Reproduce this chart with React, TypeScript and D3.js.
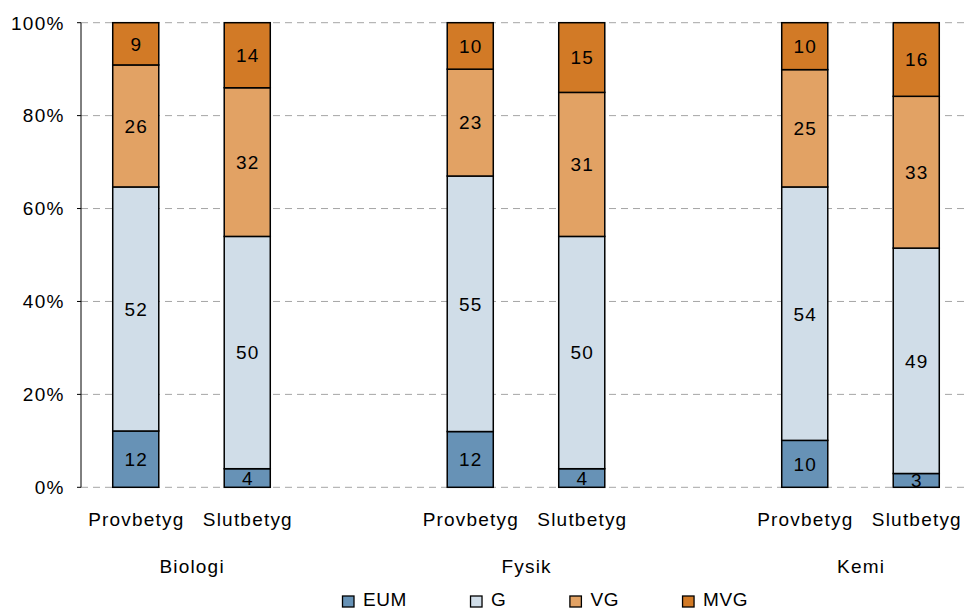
import React from "react";
import * as d3 from "d3";

const subjects = ["Biologi", "Fysik", "Kemi"];
const kinds = ["Provbetyg", "Slutbetyg"];
const series = ["EUM", "G", "VG", "MVG"];
const colors = ["#6792b6", "#d0dde8", "#e2a264", "#d27a26"];
const EUM = [12, 4, 12, 4, 10, 3];
const G = [52, 50, 55, 50, 54, 49];
const VG = [26, 32, 23, 31, 25, 33];
const MVG = [9, 14, 10, 15, 10, 16];
const yTicks = [0, 0.2, 0.4, 0.6, 0.8, 1];

const W = 964, H = 611;
const FONT = "'Liberation Sans', Arial, sans-serif";
const FS = 19;
const LS = 1.2;

function textWidth(s: string, size: number, ls: number) {
  if (typeof document === "undefined") return s.length * size * 0.6;
  const c = document.createElement("canvas").getContext("2d")!;
  c.font = `${size}px 'Liberation Sans', Arial, sans-serif`;
  return c.measureText(s).width + ls * s.length;
}

export default function App() {
  const slots: string[] = [];
  subjects.forEach((s, i) => {
    kinds.forEach((k) => slots.push(`${s}|${k}`));
    if (i < subjects.length - 1) slots.push(`gap${i}`);
  });
  const x = d3.scaleBand<string>().domain(slots).range([80, 972]).paddingInner(0.587).paddingOuter(0.2935);
  const y = d3.scaleLinear().domain([0, 1]).range([487.3, 22.7]);

  const bars: { key: string; vals: number[] }[] = [];
  subjects.forEach((s, si) => kinds.forEach((k, ki) => {
    const i = si * 2 + ki;
    bars.push({ key: `${s}|${k}`, vals: [EUM[i], G[i], VG[i], MVG[i]] });
  }));

  const bw = x.bandwidth();
  const fmt = d3.format(".0%");

  const legendLS = 0.6;
  const legendX: number[] = [];
  let lx = 342;
  series.forEach((s) => {
    legendX.push(lx);
    lx += 21 + textWidth(s, FS, legendLS) + 63;
  });

  return (
    <svg width={W} height={H} style={{ position: "absolute", left: 0, top: 0, fontFamily: FONT }}>
      {yTicks.map((t) => (
        <g key={t}>
          <line x1={81} x2={964} y1={y(t)} y2={y(t)} stroke="#a6a6a6" strokeWidth={1} strokeDasharray="7,5" />
          <line x1={77} x2={81} y1={y(t)} y2={y(t)} stroke="#000" />
          <text x={64.5} y={y(t)} dy="0.36em" textAnchor="end" fontSize={FS} letterSpacing={LS} fill="#000">{fmt(t)}</text>
        </g>
      ))}
      <line x1={81} x2={81} y1={y(1)} y2={y(0)} stroke="#000" />
      {bars.map((b) => {
        const total = d3.sum(b.vals);
        let cum = 0;
        const x0 = x(b.key)!;
        return (
          <g key={b.key}>
            {b.vals.map((v, j) => {
              const y0 = cum / total;
              cum += v;
              const y1 = cum / total;
              const top = y(y1), bot = y(y0);
              return (
                <g key={j}>
                  <rect x={x0} y={top} width={bw} height={bot - top} fill={colors[j]} stroke="#000" strokeWidth={1.5} />
                  <text x={x0 + bw / 2 + LS / 2} y={(top + bot) / 2} dy="0.36em" textAnchor="middle" fontSize={FS} letterSpacing={LS} fill="#000">{v}</text>
                </g>
              );
            })}
            <text x={x0 + bw / 2 + LS / 2} y={526} textAnchor="middle" fontSize={FS} letterSpacing={LS} fill="#000">{b.key.split("|")[1]}</text>
          </g>
        );
      })}
      {subjects.map((s) => {
        const c = (x(`${s}|${kinds[0]}`)! + x(`${s}|${kinds[1]}`)! + bw) / 2;
        return <text key={s} x={c + LS / 2} y={573} textAnchor="middle" fontSize={FS} letterSpacing={LS} fill="#000">{s}</text>;
      })}
      {series.map((s, i) => (
        <g key={s}>
          <rect x={legendX[i] + 0.5} y={596} width={11.5} height={11} fill={colors[i]} stroke="#000" strokeWidth={1.3} />
          <text x={legendX[i] + 21} y={606} fontSize={FS} letterSpacing={legendLS} fill="#000">{s}</text>
        </g>
      ))}
    </svg>
  );
}
